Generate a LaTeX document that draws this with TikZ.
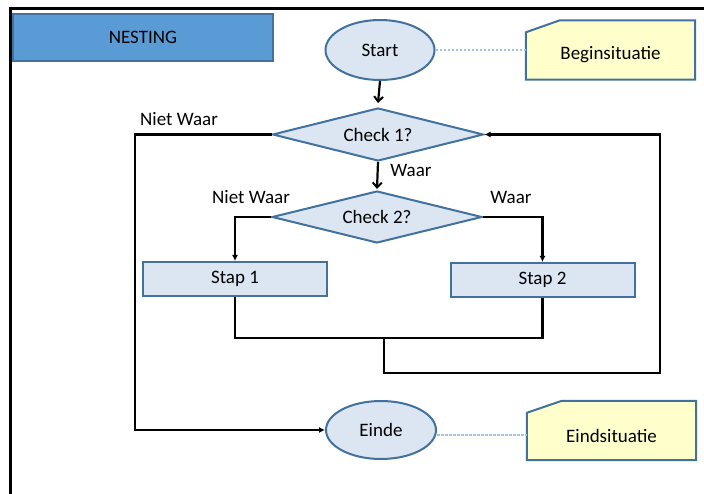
\documentclass[tikz,border=0pt]{standalone}
\usepackage{fontspec}
\setmainfont{Carlito}
\usetikzlibrary{shapes.geometric,arrows.meta,backgrounds}
\definecolor{bluefill}{HTML}{DCE6F2}
\definecolor{blueedge}{HTML}{41719C}
\definecolor{headfill}{HTML}{5B9BD5}
\definecolor{notefill}{HTML}{FFFFCC}
\definecolor{dotblue}{HTML}{9DC3E6}
\tikzset{
  every node/.style={font=\fontsize{19}{22}\selectfont, text=black},
  shapeline/.style={draw=blueedge, line width=2pt, fill=bluefill},
  termnode/.style={shapeline, ellipse, inner sep=0pt},
  decnode/.style={shapeline, diamond, aspect=4, inner sep=0pt},
  procnode/.style={shapeline, rectangle, minimum width=184pt, minimum height=34pt, inner sep=0pt},
  notebox/.style={rectangle, minimum width=169pt, minimum height=59pt, inner sep=0pt},
  noteshape/.style={draw=blueedge, line width=2pt, fill=notefill},
  conn/.style={line width=2.2pt, draw=black},
  arr/.style={conn, -{Latex[length=6pt,width=6pt]}},
  varr/.style={conn, -{Straight Barb[length=5pt,width=9pt,line width=2pt]}},
  dotline/.style={draw=dotblue, line width=1.4pt, dash pattern=on 2.5pt off 1.5pt},
  lbl/.style={inner sep=0pt}
}
\begin{document}
\begin{tikzpicture}[x=1pt,y=-1pt]
\useasboundingbox (0,0) rectangle (704,494);
% frame
\draw[line width=3pt] (8.5,8.5) -- (704,8.5);
\draw[line width=3pt] (10,7) -- (10,494);
% heading
\node[draw=blueedge, line width=2pt, fill=headfill, minimum width=260pt, minimum height=47pt, inner sep=0pt] (title) at (143,37.5) {NESTING};
% terminals
\node[termnode, minimum width=109pt, minimum height=60pt] (start) at (380,50) {Start};
\node[termnode, minimum width=110pt, minimum height=58pt] (einde) at (381,430) {Einde};
% decisions
\node[decnode, minimum width=211pt, minimum height=53pt] (c1) at (378,134.5) {Check 1?};
\node[decnode, minimum width=210pt, minimum height=52pt] (c2) at (377,217) {Check 2?};
% processes
\node[procnode] (s1) at (235,279) {Stap 1};
\node[procnode] (s2) at (542.5,280) {Stap 2};
% notes
\node[notebox] (beg) at (610.5,50) {};
\node[notebox] (eind) at (611.5,430.5) {};
\begin{pgfonlayer}{background}
\path[noteshape] (beg.south west) -- ([yshift=-12pt]beg.north west) -- ([xshift=34pt]beg.north west) -- (beg.north east) -- (beg.south east) -- cycle;
\path[noteshape] (eind.south west) -- ([yshift=-12pt]eind.north west) -- ([xshift=35pt]eind.north west) -- (eind.north east) -- (eind.south east) -- cycle;
\end{pgfonlayer}
\node[lbl] (begtxt) at ([yshift=-5pt]beg.center) {Beginsituatie};
\node[lbl] (eindtxt) at ([yshift=-5.5pt]eind.center) {Eindsituatie};
% dotted links
\draw[dotline] (start.east) -- (beg.west |- start.east);
\draw[dotline] ([yshift=-5pt]einde.east) -- ([yshift=-5pt]einde.east -| eind.west);
% labels
\node[lbl] (nw1) at (179,119) {Niet Waar};
\node[lbl] (w1) at (411,170) {Waar};
\node[lbl] (nw2) at (251,197) {Niet Waar};
\node[lbl] (w2) at (511,197) {Waar};
% connectors
\coordinate (mj) at (384,338);
\coordinate (lp) at (660,373);
\coordinate (lx) at (135,134.5);
\draw[varr] (start.south) -- ([yshift=4pt]c1.north);
\draw[varr] (c1.south) -- ([yshift=1pt]c2.north);
\draw[arr] (c1.west) -- (lx) |- (einde.west);
\draw[arr] (c2.west) -| (s1.north);
\draw[arr] (c2.east) -| (s2.north);
\draw[conn] (s1.south) |- (mj) -| (s2.south);
\draw[arr] (mj) |- (lp) |- (c1.east);
\end{tikzpicture}
\end{document}
